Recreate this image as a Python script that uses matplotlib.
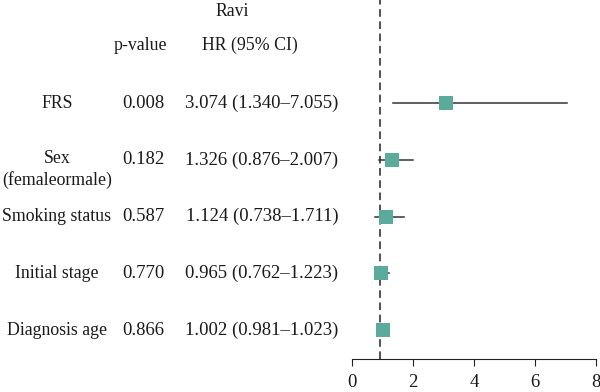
import matplotlib
matplotlib.use("Agg")
import matplotlib.pyplot as plt
import matplotlib.transforms as mtransforms

labels = ["FRS", "Sex\n(femaleormale)", "Smoking status", "Initial stage", "Diagnosis age"]
pvalues = ["0.008", "0.182", "0.587", "0.770", "0.866"]
hr = [3.074, 1.326, 1.124, 0.965, 1.002]
ci_low = [1.340, 0.876, 0.738, 0.762, 0.981]
ci_high = [7.055, 2.007, 1.711, 1.223, 1.023]
hr_text = ["3.074 (1.340\u20137.055)", "1.326 (0.876\u20132.007)", "1.124 (0.738\u20131.711)",
           "0.965 (0.762\u20131.223)", "1.002 (0.981\u20131.023)"]
xticks = [0, 2, 4, 6, 8]

plt.rcParams['font.family'] = ['Liberation Serif', 'DejaVu Serif']
FS = 12.8
FSN = 13.5
teal = "#5aab9b"
linecol = "#333333"
tc = "#1a1a1a"

fig = plt.figure(figsize=(6, 3.92), dpi=100)
ax = fig.add_axes([352/600, 33/392, 244/600, 359/392])
ax.set_xlim(0, 8)
ax.set_ylim(4.51, -1.82)

rows = list(range(len(labels)))
for i in rows:
    ax.plot([ci_low[i], ci_high[i]], [i, i], color=linecol, lw=1.1, zorder=2)
ax.scatter(hr, rows, marker="s", s=90, color=teal, zorder=3, linewidths=0)
ax.axvline(0.93, color="#222222", lw=1.1, ls=(0, (5, 3)), zorder=1)

for s in ["top", "right", "left"]:
    ax.spines[s].set_visible(False)
ax.spines["bottom"].set_color("#222222")
ax.set_yticks([])
ax.set_xticks(xticks)
ax.tick_params(axis="x", labelsize=FSN, length=5, color="#222222", labelcolor=tc, pad=6)

trans = mtransforms.blended_transform_factory(fig.transFigure, ax.transData)
for i in rows:
    if "\n" in labels[i]:
        ax.text(57/600, i - 0.18, labels[i], transform=trans, ha="center", va="top",
                fontsize=FS, linespacing=1.3, color=tc)
    else:
        ax.text(57/600, i, labels[i], transform=trans, ha="center", va="center",
                fontsize=FS, color=tc)
    ax.text(143/600, i, pvalues[i], transform=trans, ha="center", va="center",
            fontsize=FSN, color=tc)
    ax.text(262/600, i, hr_text[i], transform=trans, ha="center", va="center",
            fontsize=FSN, color=tc)

ax.text(140/600, -1.02, "p-value", transform=trans, ha="center", va="center", fontsize=FS, color=tc)
ax.text(250/600, -1.02, "HR (95% CI)", transform=trans, ha="center", va="center", fontsize=FS, color=tc)
ax.text(232/600, -1.62, "Ravi", transform=trans, ha="center", va="center", fontsize=FS, color=tc)

fig.savefig("out.png", dpi=100)
